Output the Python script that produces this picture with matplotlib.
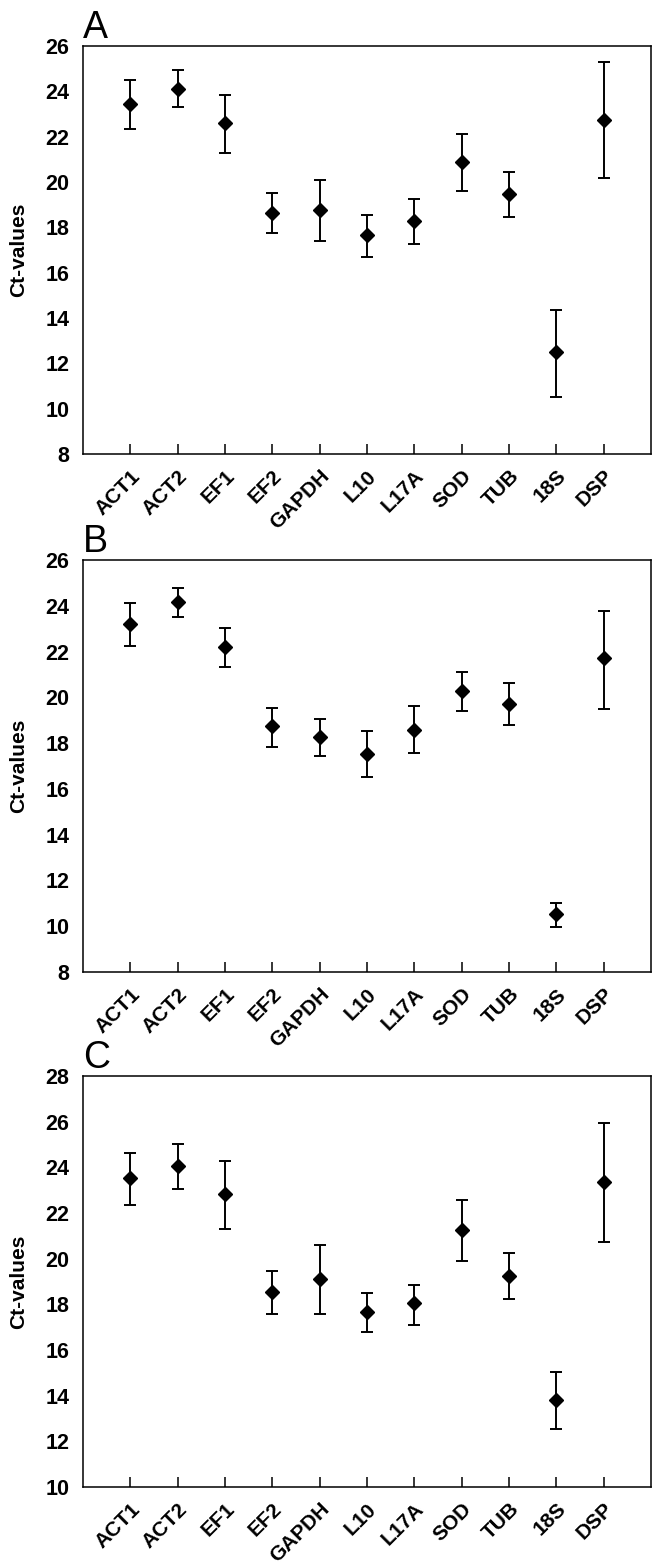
import matplotlib
matplotlib.use("Agg")
import matplotlib.pyplot as plt
import numpy as np

genes = ["ACT1", "ACT2", "EF1", "EF2", "GAPDH", "L10", "L17A", "SOD", "TUB", "18S", "DSP"]

# panel A
a_mean = [23.43, 24.12, 22.60, 18.65, 18.76, 17.64, 18.29, 20.90, 19.48, 12.51, 22.73]
a_high = [24.49, 24.96, 23.83, 19.53, 20.08, 18.52, 19.24, 22.13, 20.44, 14.36, 25.27]
a_low = [22.33, 23.29, 21.28, 17.76, 17.39, 16.69, 17.26, 19.59, 18.45, 10.50, 20.16]

# panel B
b_mean = [23.20, 24.16, 22.20, 18.73, 18.27, 17.53, 18.59, 20.29, 19.72, 10.52, 21.70]
b_high = [24.10, 24.76, 23.01, 19.54, 19.05, 18.51, 19.62, 21.09, 20.61, 11.02, 23.78]
b_low = [22.24, 23.51, 21.31, 17.85, 17.43, 16.52, 17.57, 19.41, 18.78, 9.98, 19.47]

# panel C
c_mean = [23.52, 24.06, 22.81, 18.55, 19.12, 17.67, 18.04, 21.26, 19.26, 13.81, 23.37]
c_high = [24.62, 25.04, 24.26, 19.47, 20.59, 18.48, 18.84, 22.57, 20.23, 15.04, 25.93]
c_low = [22.36, 23.06, 21.31, 17.58, 17.58, 16.80, 17.09, 19.90, 18.21, 12.52, 20.74]

panels = [
    ("A", a_mean, a_low, a_high, (8, 26), [0.1256, 0.7105, 0.8593, 0.2602]),
    ("B", b_mean, b_low, b_high, (8, 26), [0.1256, 0.3801, 0.8593, 0.2628]),
    ("C", c_mean, c_low, c_high, (10, 28), [0.1256, 0.0517, 0.8593, 0.2621]),
]

plt.rcParams["font.family"] = ["Liberation Sans", "DejaVu Sans"]

fig = plt.figure(figsize=(6.61, 15.68), dpi=100)
x = np.arange(1, len(genes) + 1)

for letter, mean, low, high, ylim, rect in panels:
    ax = fig.add_axes(rect)
    mean = np.array(mean)
    err = [mean - np.array(low), np.array(high) - mean]
    ax.errorbar(x, mean, yerr=err, fmt="D", color="black", ms=7,
                elinewidth=1.4, capsize=4.5, capthick=1.4)
    ax.set_xlim(0, 12)
    ax.set_ylim(*ylim)
    ax.set_yticks(np.arange(ylim[0], ylim[1] + 1, 2))
    ax.set_xticks(x)
    ax.set_xticklabels(genes, rotation=45, ha="right", rotation_mode="anchor",
                       fontsize=15, fontweight="bold")
    for lab in ax.get_yticklabels():
        lab.set_fontsize(15.5)
        lab.set_fontweight("bold")
    ax.tick_params(axis="x", direction="in", length=7, width=1.1, pad=9)
    ax.tick_params(axis="y", length=0, pad=10)
    for s in ax.spines.values():
        s.set_linewidth(1.1)
    ax.set_ylabel("Ct-values", fontsize=15, fontweight="bold", labelpad=12)
    ax.text(0.0, 1.0, letter, transform=ax.transAxes, fontsize=27,
            ha="left", va="bottom")

fig.savefig("out.png", dpi=100)
